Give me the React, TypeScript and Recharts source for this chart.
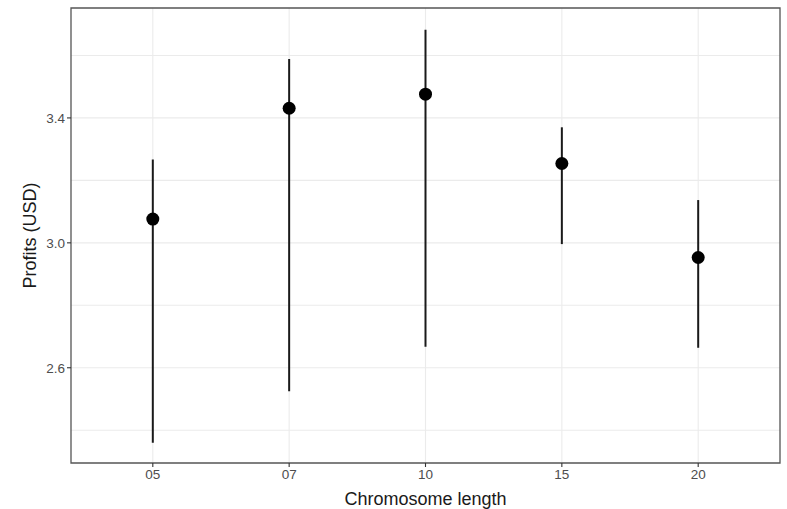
import React from 'react';
import { ComposedChart, Scatter, XAxis, YAxis, CartesianGrid, ErrorBar, ReferenceArea } from 'recharts';

const categories = ['05', '07', '10', '15', '20'];
const means = [3.076, 3.431, 3.476, 3.254, 2.953];
const lows = [2.36, 2.525, 2.667, 2.996, 2.664];
const highs = [3.267, 3.589, 3.682, 3.37, 3.137];
const yTicks = [2.6, 3.0, 3.4];
const yGrid = [2.4, 2.6, 2.8, 3.0, 3.2, 3.4, 3.6];

const data = categories.map((c, i) => ({
  x: i + 1,
  label: c,
  mean: means[i],
  err: [means[i] - lows[i], highs[i] - means[i]],
}));

const X_DOMAIN: [number, number] = [0.4, 5.6];
const Y_DOMAIN: [number, number] = [2.295, 3.752];

export default function App() {
  return (
    <div style={{ position: 'absolute', left: 0, top: 0, background: '#fff' }}>
      <ComposedChart
        width={787}
        height={509}
        data={data}
        margin={{ top: 8, right: 7, left: 0, bottom: 0 }}
        style={{ fontFamily: '"Liberation Sans", Arial, sans-serif' }}
      >
        <CartesianGrid
          stroke="#ebebeb"
          strokeWidth={1.1}
          horizontalValues={yGrid}
          verticalValues={[1, 2, 3, 4, 5]}
        />
        <XAxis
          dataKey="x"
          type="number"
          domain={X_DOMAIN}
          ticks={[1, 2, 3, 4, 5]}
          tickFormatter={(v: number) => categories[v - 1] ?? ''}
          allowDataOverflow
          height={46}
          axisLine={false}
          tickSize={4}
          tickLine={{ stroke: '#333', strokeWidth: 1.1 }}
          tick={{ fill: '#4d4d4d', fontSize: 13.5 }}
          label={{ value: 'Chromosome length', position: 'insideBottom', offset: 4, fill: '#1a1a1a', fontSize: 18 }}
        />
        <YAxis
          dataKey="mean"
          type="number"
          domain={Y_DOMAIN}
          ticks={yTicks}
          tickFormatter={(v: number) => v.toFixed(1)}
          allowDataOverflow
          width={71}
          axisLine={false}
          tickSize={4}
          tickLine={{ stroke: '#333', strokeWidth: 1.1 }}
          tick={{ fill: '#4d4d4d', fontSize: 13.5 }}
          label={{
            value: 'Profits (USD)',
            angle: -90,
            position: 'insideLeft',
            offset: 30,
            fill: '#1a1a1a',
            fontSize: 18,
            style: { textAnchor: 'middle' },
          }}
        />
        <ReferenceArea
          x1={X_DOMAIN[0]}
          x2={X_DOMAIN[1]}
          y1={Y_DOMAIN[0]}
          y2={Y_DOMAIN[1]}
          fill="none"
          stroke="#555"
          strokeWidth={1.3}
          ifOverflow="visible"
        />
        <Scatter dataKey="mean" fill="#000" isAnimationActive={false} shape={(p: any) => <circle cx={p.cx} cy={p.cy} r={6.5} fill="#000" />}>
          <ErrorBar dataKey="err" direction="y" width={0} stroke="#1a1a1a" strokeWidth={2} isAnimationActive={false} />
        </Scatter>
      </ComposedChart>
    </div>
  );
}
